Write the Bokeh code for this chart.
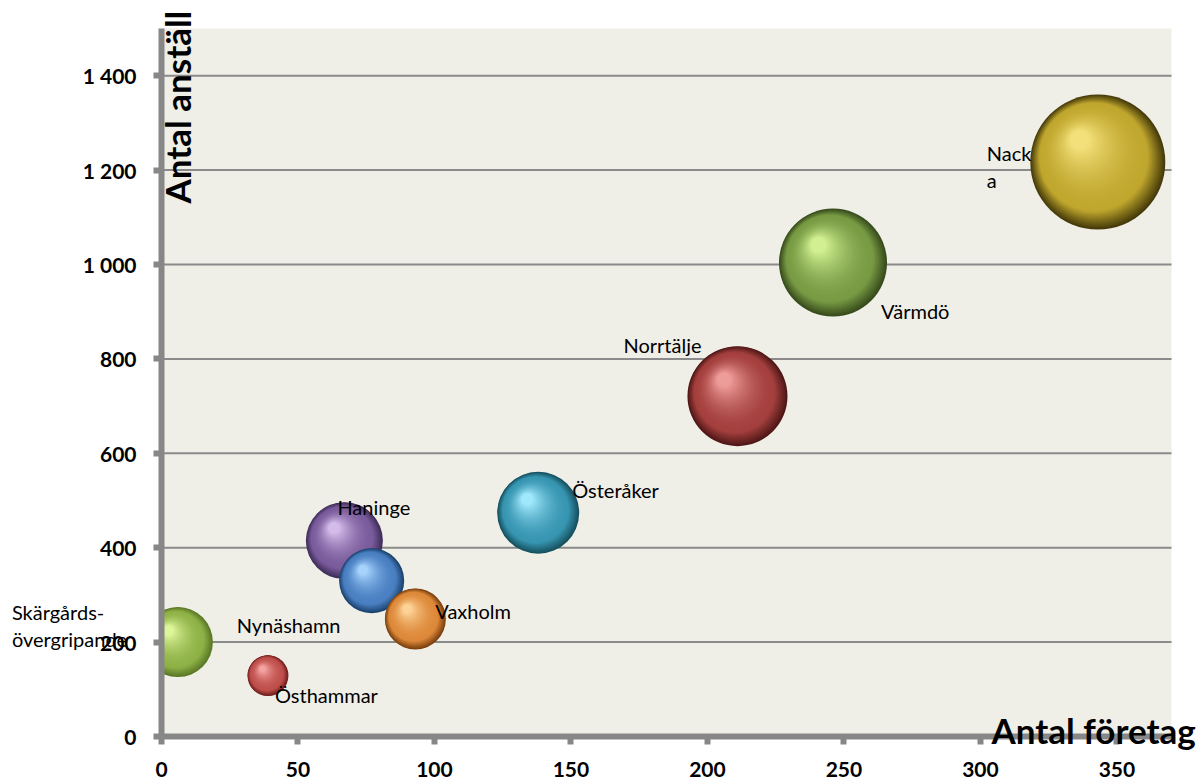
import math
from bokeh.plotting import figure
from bokeh.models import ColumnDataSource, Label, FixedTicker, Range1d
from bokeh.embed import file_html
from bokeh.resources import INLINE

# ---------------- data ----------------
kommuner = ["Skärgårds-övergripande", "Östhammar", "Haninge", "Nynäshamn", "Vaxholm",
            "Österåker", "Norrtälje", "Värmdö", "Nacka"]
etikett_rader = [["Skärgårds-", "övergripande"], ["Östhammar"], ["Haninge"], ["Nynäshamn"],
                 ["Vaxholm"], ["Österåker"], ["Norrtälje"], ["Värmdö"], ["Nack", "a"]]
antal_foretag = [6, 39, 67, 77, 93, 138, 211, 246, 343]
antal_anstallda = [200, 129, 415, 330, 249, 474, 721, 1004, 1217]
storlek = [269, 92, 325, 232, 204, 369, 549, 640, 1000]

x_ticks = [0, 50, 100, 150, 200, 250, 300, 350]
x_tick_labels = ["0", "50", "100", "150", "200", "250", "300", "350"]
y_ticks = [0, 200, 400, 600, 800, 1000, 1200, 1400]
y_tick_labels = ["0", "200", "400", "600", "800", "1 000", "1 200", "1 400"]
X_MAX, Y_MAX = 370, 1500

# ---------------- styles / layout ----------------
palett = [  # (dark edge, mid tone, highlight)
    ("#5a7826", "#8fb247", "#dcf49a"),
    ("#6e1f1d", "#c0504d", "#f2a2a0"),
    ("#3f2d5a", "#7a5c9c", "#d4bcea"),
    ("#1b426e", "#4a80c2", "#a6d2fc"),
    ("#7a3f0e", "#de893a", "#fcd296"),
    ("#16505f", "#3896b2", "#a0e8fc"),
    ("#4e1716", "#a4403e", "#ee9c9a"),
    ("#374b1c", "#789b44", "#d2f092"),
    ("#463b0a", "#c0a72e", "#f3e07a"),
]
# label offsets in pixels from bubble centre (dx right, dy down)
etikett_offset = [(-166, -30), (7, 19), (-7, -34), (-135, 44), (20, -8),
                  (34, -23), (-114, -51), (48, 48), (-111, -9)]
RAD_ROW = 27

FONT = "Lato"
CW, CH = 1200, 782                 # canvas size
PX_X0, PX_X1 = 161, 1171           # canvas x of plot-area left / right
PX_Y0, PX_Y1 = 736, 28             # canvas y of plot-area bottom / top
ppx = (PX_X1 - PX_X0) / X_MAX
ppy = (PX_Y0 - PX_Y1) / Y_MAX
x_start, x_end = -PX_X0 / ppx, X_MAX + (CW - PX_X1) / ppx
y_start, y_end = -(CH - PX_Y0) / ppy, Y_MAX + PX_Y1 / ppy

R_MAX_PX = 67.5
N_LAYERS = 48


def hex2rgb(h):
    h = h.lstrip("#")
    return tuple(int(h[i:i + 2], 16) for i in (0, 2, 4))


def lerp(c1, c2, t):
    a, b = hex2rgb(c1), hex2rgb(c2)
    return "#%02x%02x%02x" % tuple(int(round(a[i] + (b[i] - a[i]) * t)) for i in range(3))


def shade(dark, mid, hi, t):
    if t < 0.22:
        return lerp(dark, mid, t / 0.22)
    u = (t - 0.22) / 0.78
    return lerp(mid, hi, u ** 1.8)


xs, ys, rs, cs = [], [], [], []
smax = max(storlek)
for i in range(len(kommuner)):
    R = R_MAX_PX * math.sqrt(storlek[i] / smax)
    dark, mid, hi = palett[i]
    for k in range(N_LAYERS):
        t = k / (N_LAYERS - 1)
        r = R * (1 - 0.86 * t)
        ox = -0.27 * R * t
        oy = 0.33 * R * t
        xs.append(antal_foretag[i] + ox / ppx)
        ys.append(antal_anstallda[i] + oy / ppy)
        rs.append(r / ppx)
        cs.append(shade(dark, mid, hi, t))

src = ColumnDataSource(dict(x=xs, y=ys, r=rs, c=cs))

p = figure(frame_width=CW, frame_height=CH,
           x_range=Range1d(x_start, x_end), y_range=Range1d(y_start, y_end),
           output_backend="svg", toolbar_location=None, min_border=0)
p.background_fill_color = "white"
p.border_fill_color = "white"
p.outline_line_color = None
p.xgrid.visible = False
p.ygrid.visible = False

# plot area
p.quad(left=[0], right=[X_MAX], bottom=[0], top=[Y_MAX], fill_color="#EFEEE7", line_color=None)
# horizontal gridlines
p.segment(x0=[0] * (len(y_ticks) - 1), x1=[X_MAX] * (len(y_ticks) - 1),
          y0=y_ticks[1:], y1=y_ticks[1:], line_color="#8a8a8a", line_width=2)
# bubbles
p.circle(x="x", y="y", radius="r", fill_color="c", line_color=None, source=src)
# mask: keep bubbles inside the plot area
p.quad(left=[x_start], right=[0], bottom=[y_start], top=[y_end], fill_color="white", line_color=None)

# axes
for ax, ticks, labels, bounds in ((p.xaxis[0], x_ticks, x_tick_labels, (0, X_MAX)),
                                  (p.yaxis[0], y_ticks, y_tick_labels, (0, Y_MAX))):
    ax.fixed_location = 0
    ax.bounds = bounds
    ax.ticker = FixedTicker(ticks=ticks)
    ax.major_label_overrides = {tk: lb for tk, lb in zip(ticks, labels)}
    ax.axis_line_color = "#878787"
    ax.axis_line_width = 6
    ax.major_tick_line_color = "#878787"
    ax.major_tick_line_width = 6
    ax.major_tick_out = 8
    ax.major_tick_in = 0
    ax.minor_tick_line_color = None
    ax.major_label_text_font = FONT
    ax.major_label_text_font_style = "bold"
    ax.major_label_text_font_size = "21px"
    ax.major_label_text_color = "black"
    ax.major_label_standoff = 17

# bubble labels
for i, rows in enumerate(etikett_rader):
    dx, dy = etikett_offset[i]
    for j, txt in enumerate(rows):
        p.add_layout(Label(x=antal_foretag[i], y=antal_anstallda[i], x_offset=dx,
                           y_offset=-(dy + j * RAD_ROW),
                           text=txt, text_font=FONT, text_font_size="20px", text_color="black",
                           text_align="left", text_baseline="alphabetic"))

# axis titles
p.add_layout(Label(x=176, y=203, x_units="canvas", y_units="canvas", angle=math.pi / 2,
                   text="Antal anställ", text_font=FONT, text_font_style="bold",
                   text_font_size="35px", text_color="black",
                   text_align="left", text_baseline="alphabetic"))
p.add_layout(Label(x=991, y=729, x_units="canvas", y_units="canvas",
                   text="Antal företag", text_font=FONT, text_font_style="bold",
                   text_font_size="35px", text_color="black",
                   text_align="left", text_baseline="alphabetic"))

open("out.html", "w").write(file_html(p, INLINE))
